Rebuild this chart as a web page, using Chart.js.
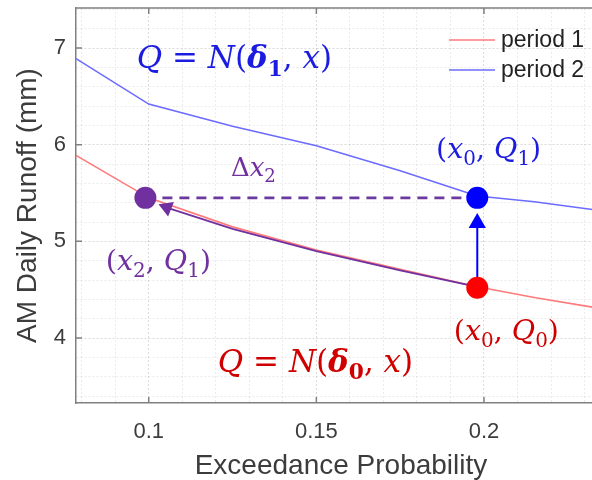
<!DOCTYPE html>
<html>
<head>
<meta charset="utf-8">
<title>AM Daily Runoff</title>
<script src="https://cdn.jsdelivr.net/npm/chart.js@4.4.1/dist/chart.umd.min.js"></script>
<style>
  html, body { margin: 0; padding: 0; background: #ffffff; overflow: hidden; }
  #wrap { width: 592px; height: 480px; overflow: hidden; }
  #runoffChart { display: block; }
</style>
</head>
<body>
<div id="wrap"><canvas id="runoffChart" width="606" height="480"></canvas></div>
<script>
// ---- data ----
const probs   = [0.0783, 0.1, 0.125, 0.15, 0.175, 0.198, 0.215, 0.2323];
const period1 = [5.89, 5.45, 5.15, 4.91, 4.71, 4.53, 4.42, 4.32];
const period2 = [6.89, 6.42, 6.19, 5.99, 5.73, 5.47, 5.41, 5.33];

// path of the purple arrow (follows period 1 from x0 back to x2)
const shiftProbs = [0.198, 0.175, 0.15, 0.125, 0.1054];
const shiftQ     = [4.53, 4.70, 4.90, 5.13, 5.35];

// the three highlighted points
const x0 = 0.198, x2 = 0.099;
const Q0 = 4.52, Q1 = 5.45;
const liftTop = 5.19;            // head of the vertical blue arrow

const markerX = [x2, x0, x0];
const markerY = [Q1, Q1, Q0];
const markerColors = ['#7030a0', '#0000ff', '#ff0000'];

// axes (the right edge of the original axes is cropped off)
const xRange = [0.0783, 0.2364];
const yRange = [3.328, 7.414];
const xTickLabels = [0.1, 0.15, 0.2];
const yTickLabels = [4, 5, 6, 7];

const textColor = '#3c3c3c';
const frameColor = '#808080';
const sans = '"Liberation Sans", Arial, sans-serif';

function pts(xs, ys) {
    return xs.map((x, i) => ({ x: x, y: ys[i] }));
}
function isMajor(list, v) {
    return list.some(m => Math.abs(m - v) < 1e-9);
}

// draws a run of math text pieces (italic / bold / subscripts)
function drawMath(ctx, parts, x, y, size, color) {
    let cx = x;
    ctx.fillStyle = color;
    ctx.textBaseline = 'alphabetic';
    ctx.textAlign = 'left';
    parts.forEach(p => {
        const s = p.sub ? size * 0.7 : size;
        ctx.font = (p.style || '') + ' ' + s + 'px "DejaVu Serif"';
        ctx.fillText(p.t, cx, y + (p.sub ? size * 0.24 : 0));
        cx += ctx.measureText(p.t).width;
    });
}

const I = 'italic', B = 'italic bold';
const labels = [
    { x: 0.0964, y: 6.79, size: 31, color: '#1c1ce0',
      parts: [{t:'Q',style:I},{t:' = '},{t:'N',style:I},{t:'('},{t:'δ',style:B},{t:'1',style:'bold',sub:true},{t:', '},{t:'x',style:I},{t:')'}] },
    { x: 0.1206, y: 3.65, size: 31, color: '#d00000',
      parts: [{t:'Q',style:I},{t:' = '},{t:'N',style:I},{t:'('},{t:'δ',style:B},{t:'0',style:'bold',sub:true},{t:', '},{t:'x',style:I},{t:')'}] },
    { x: 0.1857, y: 5.86, size: 28.5, color: '#1c1ce0',
      parts: [{t:'('},{t:'x',style:I},{t:'0',sub:true},{t:', '},{t:'Q',style:I},{t:'1',sub:true},{t:')'}] },
    { x: 0.0872, y: 4.70, size: 28.5, color: '#7030a0',
      parts: [{t:'('},{t:'x',style:I},{t:'2',sub:true},{t:', '},{t:'Q',style:I},{t:'1',sub:true},{t:')'}] },
    { x: 0.1910, y: 3.98, size: 28.5, color: '#d00000',
      parts: [{t:'('},{t:'x',style:I},{t:'0',sub:true},{t:', '},{t:'Q',style:I},{t:'0',sub:true},{t:')'}] },
    { x: 0.1245, y: 5.68, size: 26, color: '#7030a0',
      parts: [{t:'Δ'},{t:'x',style:I},{t:'2',sub:true}] }
];

// frame (top edge + inward ticks), legend and math labels
const decorPlugin = {
    id: 'decor',
    afterDatasetsDraw(chart) {
        const { ctx, chartArea: a, scales: { x, y } } = chart;
        ctx.save();
        ctx.strokeStyle = frameColor;
        ctx.lineWidth = 1.5;
        ctx.beginPath();
        ctx.moveTo(a.left, a.top);
        ctx.lineTo(a.right, a.top);
        xTickLabels.forEach(v => {
            const px = x.getPixelForValue(v);
            ctx.moveTo(px, a.bottom); ctx.lineTo(px, a.bottom - 6);
            ctx.moveTo(px, a.top);    ctx.lineTo(px, a.top + 6);
        });
        yTickLabels.forEach(v => {
            const py = y.getPixelForValue(v);
            ctx.moveTo(a.left, py); ctx.lineTo(a.left + 6, py);
        });
        ctx.stroke();

        // legend, top right corner of the axes
        const legendSets = chart.data.datasets.slice(0, 2);
        legendSets.forEach((ds, i) => {
            const ly = a.top + 32 + i * 30;
            ctx.strokeStyle = ds.borderColor;
            ctx.lineWidth = 1.5;
            ctx.beginPath();
            ctx.moveTo(a.right - 157, ly);
            ctx.lineTo(a.right - 111, ly);
            ctx.stroke();
            ctx.fillStyle = '#222222';
            ctx.font = '23px ' + sans;
            ctx.textBaseline = 'middle';
            ctx.textAlign = 'left';
            ctx.fillText(ds.label, a.right - 105, ly + 1);
        });

        labels.forEach(l => {
            drawMath(ctx, l.parts, x.getPixelForValue(l.x), y.getPixelForValue(l.y), l.size, l.color);
        });
        ctx.restore();
    }
};

function renderRunoffChart() {
    const canvas = document.getElementById('runoffChart');
    if (!canvas) return;
    const ctx = canvas.getContext('2d');

    new Chart(ctx, {
        type: 'line',
        data: {
            datasets: [
                {
                    label: 'period 1',
                    data: pts(probs, period1),
                    borderColor: '#ff7a7a',
                    borderWidth: 1.6,
                    pointRadius: 0,
                    order: 5
                },
                {
                    label: 'period 2',
                    data: pts(probs, period2),
                    borderColor: '#6b6bff',
                    borderWidth: 1.6,
                    pointRadius: 0,
                    order: 5
                },
                {
                    label: 'shift',
                    data: pts(shiftProbs, shiftQ),
                    borderColor: '#7030a0',
                    backgroundColor: '#7030a0',
                    borderWidth: 1.8,
                    pointStyle: 'triangle',
                    pointRadius: shiftQ.map((v, i) => i === shiftQ.length - 1 ? 9 : 0),
                    pointRotation: -68,
                    pointBorderWidth: 0,
                    order: 3
                },
                {
                    label: 'lift',
                    data: pts([x0, x0], [Q0, liftTop]),
                    borderColor: '#0000ff',
                    backgroundColor: '#0000ff',
                    borderWidth: 2,
                    pointStyle: 'triangle',
                    pointRadius: [0, 10],
                    pointBorderWidth: 0,
                    order: 3
                },
                {
                    label: 'dx2',
                    data: pts([x2, x0], [Q1, Q1]),
                    borderColor: '#6a3aa0',
                    borderWidth: 2.6,
                    borderDash: [10, 7],
                    pointRadius: 0,
                    order: 4
                },
                {
                    label: 'points',
                    data: pts(markerX, markerY),
                    showLine: false,
                    pointRadius: 11,
                    pointBackgroundColor: markerColors,
                    pointBorderColor: markerColors,
                    pointBorderWidth: 0,
                    order: 1
                }
            ]
        },
        options: {
            responsive: false,
            animation: false,
            layout: { autoPadding: false, padding: { top: 8, right: 0, left: 0, bottom: 0 } },
            plugins: {
                legend: { display: false },
                tooltip: { enabled: false }
            },
            scales: {
                x: {
                    type: 'linear',
                    min: xRange[0],
                    max: xRange[1],
                    afterBuildTicks: s => {
                        const vals = [];
                        for (let k = 8; k <= 23; k++) vals.push(k / 100);
                        s.ticks = vals.map(v => ({ value: v }));
                    },
                    afterFit: s => {
                        s.height = 77;
                        s.paddingLeft = 0;
                        s.paddingRight = 0;
                    },
                    ticks: {
                        autoSkip: false,
                        maxRotation: 0,
                        padding: 16,
                        color: textColor,
                        font: { family: sans, size: 22 },
                        callback: v => isMajor(xTickLabels, v) ? String(Math.round(v * 100) / 100) : ''
                    },
                    grid: {
                        drawTicks: false,
                        color: c => isMajor(xTickLabels, c.tick ? c.tick.value : -1) ? 'rgba(0,0,0,0.14)' : 'rgba(0,0,0,0.08)',
                        lineWidth: 1
                    },
                    border: { color: frameColor, width: 1.5, dash: [2, 2] },
                    title: {
                        display: true,
                        text: 'Exceedance Probability',
                        color: textColor,
                        padding: { top: 0, bottom: 0 },
                        font: { family: sans, size: 28, lineHeight: 1 }
                    }
                },
                y: {
                    type: 'linear',
                    min: yRange[0],
                    max: yRange[1],
                    afterBuildTicks: s => {
                        const vals = [];
                        for (let k = 17; k <= 37; k++) vals.push(Math.round(k * 2) / 10);
                        s.ticks = vals.map(v => ({ value: v }));
                    },
                    afterFit: s => {
                        s.width = 76;
                        s.paddingTop = 0;
                        s.paddingBottom = 0;
                    },
                    ticks: {
                        autoSkip: false,
                        padding: 10,
                        color: textColor,
                        font: { family: sans, size: 22 },
                        callback: v => isMajor(yTickLabels, v) ? String(Math.round(v)) : ''
                    },
                    grid: {
                        drawTicks: false,
                        color: c => isMajor(yTickLabels, c.tick ? c.tick.value : -1) ? 'rgba(0,0,0,0.14)' : 'rgba(0,0,0,0.08)',
                        lineWidth: 1
                    },
                    border: { color: frameColor, width: 1.5, dash: [2, 2] },
                    title: {
                        display: true,
                        text: 'AM Daily Runoff (mm)',
                        color: textColor,
                        padding: { top: 14, bottom: 0 },
                        font: { family: sans, size: 28, lineHeight: 1 }
                    }
                }
            }
        },
        plugins: [decorPlugin]
    });
}

renderRunoffChart();
</script>
</body>
</html>
